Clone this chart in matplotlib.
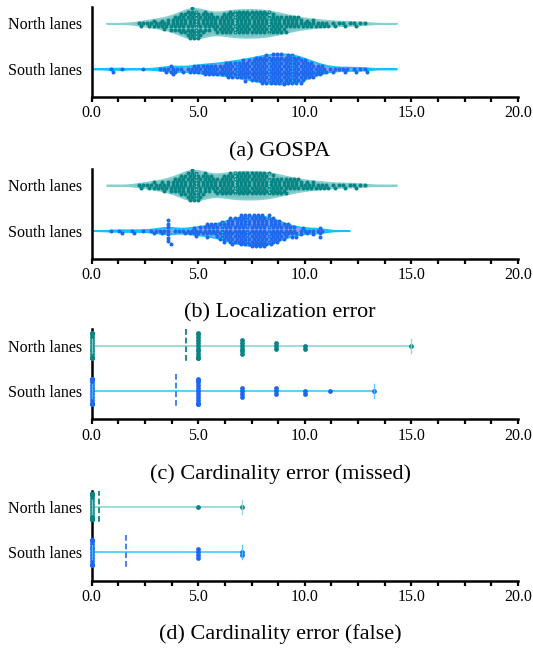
import numpy as np
import matplotlib
matplotlib.use("Agg")
import matplotlib.pyplot as plt
from matplotlib.ticker import MultipleLocator, FixedLocator, FuncFormatter

plt.rcParams['font.family'] = ['Liberation Serif', 'DejaVu Serif']

# ---------------- data ----------------
lanes = ["North lanes", "South lanes"]
panel_titles = ["(a) GOSPA", "(b) Localization error",
                "(c) Cardinality error (missed)", "(d) Cardinality error (false)"]

north_gospa = [
    2.2, 2.3, 2.4,
    2.6, 2.7, 2.8, 2.9, 2.9,
    3.0, 3.1, 3.2, 3.3, 3.3, 3.4, 3.4,
    3.5, 3.6, 3.6, 3.7, 3.7, 3.8, 3.8, 3.9, 3.9, 3.9,
    4.0, 4.0, 4.1, 4.1, 4.1, 4.2, 4.2, 4.2, 4.2, 4.3, 4.3, 4.3, 4.4, 4.4, 4.4, 4.4,
    4.5, 4.5, 4.5, 4.5, 4.5, 4.6, 4.6, 4.6, 4.6, 4.6, 4.7, 4.7, 4.7, 4.7, 4.7, 4.7,
    4.8, 4.8, 4.8, 4.8, 4.8, 4.9, 4.9, 4.9, 4.9, 4.9,
    5.0, 5.0, 5.0, 5.0, 5.0, 5.1, 5.1, 5.1, 5.1, 5.2, 5.2, 5.2, 5.2, 5.3, 5.3, 5.3, 5.3, 5.4, 5.4, 5.4,
    5.5, 5.5, 5.5, 5.6, 5.6, 5.6, 5.7, 5.7, 5.8, 5.8, 5.8, 5.9, 5.9, 5.9,
    6.0, 6.0, 6.0, 6.1, 6.1, 6.1, 6.2, 6.2, 6.2, 6.2, 6.3, 6.3, 6.3, 6.4, 6.4, 6.4, 6.4,
    6.5, 6.5, 6.5, 6.5, 6.6, 6.6, 6.6, 6.6, 6.7, 6.7, 6.7, 6.7, 6.8, 6.8, 6.8, 6.8, 6.9, 6.9, 6.9, 6.9,
    7.0, 7.0, 7.0, 7.0, 7.1, 7.1, 7.1, 7.1, 7.2, 7.2, 7.2, 7.2, 7.3, 7.3, 7.3, 7.3, 7.4, 7.4, 7.4, 7.4,
    7.5, 7.5, 7.5, 7.5, 7.6, 7.6, 7.6, 7.6, 7.7, 7.7, 7.7, 7.7, 7.8, 7.8, 7.8, 7.8, 7.9, 7.9, 7.9, 7.9,
    8.0, 8.0, 8.0, 8.0, 8.1, 8.1, 8.1, 8.1, 8.2, 8.2, 8.2, 8.2, 8.3, 8.3, 8.3, 8.3, 8.4, 8.4, 8.4,
    8.5, 8.5, 8.5, 8.5, 8.6, 8.6, 8.6, 8.7, 8.7, 8.7, 8.8, 8.8, 8.8, 8.9, 8.9, 8.9,
    9.0, 9.0, 9.0, 9.1, 9.1, 9.1, 9.2, 9.2, 9.3, 9.3, 9.4, 9.4,
    9.5, 9.5, 9.6, 9.6, 9.7, 9.7, 9.8, 9.8, 9.9,
    10.0, 10.1, 10.1, 10.2, 10.3, 10.4, 10.4,
    10.5, 10.6, 10.7, 10.8, 10.9,
    11.0, 11.1, 11.3, 11.4,
    11.6, 11.8, 11.9,
    12.1, 12.3, 12.4,
    12.6, 12.8,
]

south_gospa = [
    0.9, 1.0, 1.4,
    2.4,
    3.2, 3.4,
    3.5, 3.6, 3.7, 3.7, 3.8, 3.8, 3.9, 4.0,
    4.2, 4.3, 4.5,
    4.6, 4.7, 4.8, 4.8, 4.9, 5.0,
    5.0, 5.1, 5.2, 5.2, 5.3, 5.3, 5.4, 5.4,
    5.5, 5.5, 5.6, 5.6, 5.7, 5.7, 5.8, 5.8, 5.9, 5.9,
    6.0, 6.0, 6.1, 6.1, 6.2, 6.2, 6.3, 6.3, 6.3, 6.4, 6.4, 6.4,
    6.5, 6.5, 6.5, 6.6, 6.6, 6.6, 6.7, 6.7, 6.7, 6.8, 6.8, 6.8, 6.9, 6.9, 6.9,
    7.0, 7.0, 7.0, 7.1, 7.1, 7.1, 7.1, 7.2, 7.2, 7.2, 7.2, 7.3, 7.3, 7.3, 7.4, 7.4, 7.4, 7.4,
    7.5, 7.5, 7.5, 7.5, 7.6, 7.6, 7.6, 7.6, 7.7, 7.7, 7.7, 7.7, 7.7, 7.8, 7.8, 7.8, 7.8,
    7.9, 7.9, 7.9, 7.9, 7.9,
    8.0, 8.0, 8.0, 8.0, 8.0, 8.1, 8.1, 8.1, 8.1, 8.1, 8.2, 8.2, 8.2, 8.2, 8.2, 8.2,
    8.3, 8.3, 8.3, 8.3, 8.3, 8.4, 8.4, 8.4, 8.4, 8.4,
    8.5, 8.5, 8.5, 8.5, 8.5, 8.5, 8.6, 8.6, 8.6, 8.6, 8.6, 8.7, 8.7, 8.7, 8.7, 8.7, 8.7,
    8.8, 8.8, 8.8, 8.8, 8.8, 8.9, 8.9, 8.9, 8.9, 8.9, 8.9,
    9.0, 9.0, 9.0, 9.0, 9.0, 9.0, 9.1, 9.1, 9.1, 9.1, 9.1, 9.2, 9.2, 9.2, 9.2, 9.2, 9.2,
    9.3, 9.3, 9.3, 9.3, 9.3, 9.4, 9.4, 9.4, 9.4, 9.4, 9.4,
    9.5, 9.5, 9.5, 9.5, 9.5, 9.6, 9.6, 9.6, 9.6, 9.6, 9.7, 9.7, 9.7, 9.7, 9.7,
    9.8, 9.8, 9.8, 9.8, 9.8, 9.9, 9.9, 9.9, 9.9,
    10.0, 10.0, 10.0, 10.0, 10.1, 10.1, 10.1, 10.2, 10.2, 10.2, 10.3, 10.3, 10.3, 10.4, 10.4, 10.4,
    10.5, 10.5, 10.6, 10.6, 10.7, 10.7, 10.8, 10.8, 10.9,
    11.0, 11.2, 11.3, 11.4,
    11.6, 11.8, 11.9, 12.0,
    12.3, 12.4,
    12.6, 12.8, 12.9,
]

north_loc = [
    2.2, 2.3, 2.4,
    2.6, 2.7, 2.8, 2.9, 2.9,
    3.0, 3.1, 3.2, 3.3, 3.3, 3.4, 3.4,
    3.5, 3.6, 3.6, 3.7, 3.7, 3.8, 3.8, 3.9, 3.9, 3.9,
    4.0, 4.0, 4.1, 4.1, 4.1, 4.2, 4.2, 4.2, 4.2, 4.3, 4.3, 4.3, 4.4, 4.4, 4.4, 4.4,
    4.5, 4.5, 4.5, 4.5, 4.5, 4.6, 4.6, 4.6, 4.6, 4.6, 4.7, 4.7, 4.7, 4.7, 4.7, 4.7,
    4.8, 4.8, 4.8, 4.8, 4.8, 4.9, 4.9, 4.9, 4.9, 4.9,
    5.0, 5.0, 5.0, 5.0, 5.0, 5.1, 5.1, 5.1, 5.1, 5.2, 5.2, 5.2, 5.2, 5.3, 5.3, 5.3, 5.3, 5.4, 5.4, 5.4,
    5.5, 5.5, 5.5, 5.6, 5.6, 5.6, 5.7, 5.7, 5.8, 5.8, 5.8, 5.9, 5.9, 5.9,
    6.0, 6.0, 6.0, 6.1, 6.1, 6.1, 6.2, 6.2, 6.2, 6.2, 6.3, 6.3, 6.3, 6.4, 6.4, 6.4, 6.4,
    6.5, 6.5, 6.5, 6.5, 6.6, 6.6, 6.6, 6.6, 6.7, 6.7, 6.7, 6.7, 6.8, 6.8, 6.8, 6.8, 6.9, 6.9, 6.9, 6.9,
    7.0, 7.0, 7.0, 7.0, 7.1, 7.1, 7.1, 7.1, 7.2, 7.2, 7.2, 7.2, 7.3, 7.3, 7.3, 7.3, 7.4, 7.4, 7.4, 7.4,
    7.5, 7.5, 7.5, 7.5, 7.6, 7.6, 7.6, 7.6, 7.7, 7.7, 7.7, 7.7, 7.8, 7.8, 7.8, 7.8, 7.9, 7.9, 7.9, 7.9,
    8.0, 8.0, 8.0, 8.0, 8.1, 8.1, 8.1, 8.1, 8.2, 8.2, 8.2, 8.2, 8.3, 8.3, 8.3, 8.3, 8.4, 8.4, 8.4,
    8.5, 8.5, 8.5, 8.5, 8.6, 8.6, 8.6, 8.7, 8.7, 8.7, 8.8, 8.8, 8.8, 8.9, 8.9, 8.9,
    9.0, 9.0, 9.0, 9.1, 9.1, 9.1, 9.2, 9.2, 9.3, 9.3, 9.4, 9.4,
    9.5, 9.5, 9.6, 9.6, 9.7, 9.7, 9.8, 9.8, 9.9,
    10.0, 10.1, 10.1, 10.2, 10.3, 10.4, 10.4,
    10.5, 10.6, 10.7, 10.8, 10.9,
    11.0, 11.1, 11.3, 11.4,
    11.6, 11.8, 11.9,
    12.1, 12.3, 12.4,
    12.6, 12.8,
]

south_loc = [
    0.9, 1.3, 1.4, 1.9, 2.0, 2.4, 2.8, 2.9, 3.0, 3.2, 3.3, 3.4,
    3.6, 3.6, 3.6, 3.6, 3.6, 3.6, 3.6, 3.7, 3.9,
    4.1, 4.3, 4.4, 4.5,
    4.6, 4.7, 4.8, 4.8, 4.9, 4.9,
    5.0, 5.1, 5.1, 5.2, 5.3, 5.3, 5.4, 5.4, 5.4,
    5.5, 5.5, 5.6, 5.6, 5.7, 5.7, 5.8, 5.8, 5.9, 5.9, 5.9,
    6.0, 6.0, 6.0, 6.1, 6.1, 6.1, 6.1, 6.2, 6.2, 6.2, 6.2, 6.3, 6.3, 6.3, 6.4, 6.4, 6.4, 6.4,
    6.5, 6.5, 6.5, 6.5, 6.5, 6.6, 6.6, 6.6, 6.6, 6.6, 6.7, 6.7, 6.7, 6.7, 6.7,
    6.8, 6.8, 6.8, 6.8, 6.9, 6.9, 6.9, 6.9, 6.9,
    7.0, 7.0, 7.0, 7.0, 7.0, 7.0, 7.1, 7.1, 7.1, 7.1, 7.1, 7.2, 7.2, 7.2, 7.2, 7.2, 7.2,
    7.3, 7.3, 7.3, 7.3, 7.3, 7.4, 7.4, 7.4, 7.4, 7.4, 7.4,
    7.5, 7.5, 7.5, 7.5, 7.5, 7.5, 7.6, 7.6, 7.6, 7.6, 7.6, 7.6, 7.7, 7.7, 7.7, 7.7, 7.7, 7.7,
    7.8, 7.8, 7.8, 7.8, 7.8, 7.8, 7.9, 7.9, 7.9, 7.9, 7.9, 7.9,
    8.0, 8.0, 8.0, 8.0, 8.0, 8.0, 8.1, 8.1, 8.1, 8.1, 8.1, 8.1, 8.2, 8.2, 8.2, 8.2, 8.2,
    8.3, 8.3, 8.3, 8.3, 8.3, 8.3, 8.4, 8.4, 8.4, 8.4, 8.4,
    8.5, 8.5, 8.5, 8.5, 8.5, 8.6, 8.6, 8.6, 8.6, 8.7, 8.7, 8.7, 8.7, 8.8, 8.8, 8.8, 8.8,
    8.9, 8.9, 8.9,
    9.0, 9.0, 9.0, 9.1, 9.1, 9.1, 9.2, 9.2, 9.3, 9.3, 9.4, 9.4,
    9.5, 9.5, 9.6, 9.6, 9.8, 9.8, 9.9,
    10.0, 10.1, 10.2, 10.4, 10.4,
    10.6, 10.7, 10.7, 10.7, 10.8,
]

# cardinality-error levels and how many frames hit each level
card_levels = [0.0, 5.0, 7.07, 8.66, 10.0, 11.18, 13.23, 15.0]
north_missed_counts = [13, 12, 6, 3, 2, 0, 0, 1]
south_missed_counts = [17, 12, 4, 3, 2, 1, 1, 0]
north_false_counts = [35, 1, 1, 0, 0, 0, 0, 0]
south_false_counts = [15, 4, 2, 0, 0, 0, 0, 0]

# ---------------- style ----------------
NORTH = dict(pt='#078585', fill='#7cc3c3', edge='#86d0d0', line='#8fd5d5', mean='#0d8686')
SOUTH = dict(pt='#1c68ee', fill='#8ca3f0', edge='#12c2ff', line='#3fcaff', mean='#3a7af0')
STYLES = [NORTH, SOUTH]

W, H, DPI = 533, 650, 100
AX_L, AX_R = 91.7, 518.0
PANEL_TOPS = [7.0, 168.8, 329.3, 490.5]
AX_HPX = 90.0
YLIM = (1.62, -0.36)
TITLE_Y = [152, 313, 474, 634]
TITLE_X = 280

fig = plt.figure(figsize=(W / DPI, H / DPI), dpi=DPI)

px_per_x = (AX_R - AX_L) / 20.0
px_per_cat = AX_HPX / (YLIM[0] - YLIM[1])
SPACING = 3.5          # swarm spacing between point centres, px
DOT = 4.0              # drawn marker diameter, px
DOT_S = (DOT * 72.0 / DPI) ** 2
COL_SPACING = 2.9      # stacking step for tied values in (c)/(d), px
COL_DOT = 4.8
COL_DOT_S = (COL_DOT * 72.0 / DPI) ** 2


def beeswarm(vals, d):
    """Offsets (px) perpendicular to value axis for a non-overlapping swarm."""
    x = np.asarray(vals, float) * px_per_x
    order = np.argsort(x, kind='stable')
    ys = np.zeros(len(x))
    px_l, py_l = [], []
    for i in order:
        xi = x[i]
        if px_l:
            pxa = np.array(px_l); pya = np.array(py_l)
            m = np.abs(pxa - xi) < d
            nx, ny = pxa[m], pya[m]
        else:
            nx, ny = np.array([]), np.array([])
        cands = [0.0]
        for a, b in zip(nx, ny):
            dy = np.sqrt(max(d * d - (a - xi) ** 2, 0.0))
            cands += [b + dy, b - dy]
        cands = sorted(cands, key=lambda c: (abs(c), -c))
        chosen = cands[-1]
        for c in cands:
            if len(nx) == 0 or np.all((nx - xi) ** 2 + (ny - c) ** 2 >= d * d - 1e-6):
                chosen = c
                break
        ys[i] = chosen
        px_l.append(xi); py_l.append(chosen)
    return ys


def kde(vals, bw_adjust=0.6, n_grid=400):
    v = np.asarray(vals, float)
    bw_scott = len(v) ** (-0.2) * v.std(ddof=1)
    bw = bw_scott * bw_adjust
    grid = np.linspace(v.min() - 2 * bw_scott, v.max() + 2 * bw_scott, n_grid)
    dens = np.exp(-0.5 * ((grid[:, None] - v[None, :]) / bw) ** 2).sum(1)
    return grid, dens / dens.max()


def style_axes(ax):
    ax.set_xlim(0, 20)
    ax.set_ylim(*YLIM)
    for s in ['top', 'right']:
        ax.spines[s].set_visible(False)
    for s in ['left', 'bottom']:
        ax.spines[s].set_linewidth(1.8)
        ax.spines[s].set_zorder(2.5)
    ax.xaxis.set_major_locator(FixedLocator([0, 5, 10, 15, 20]))
    ax.xaxis.set_minor_locator(MultipleLocator(1.25))
    ax.xaxis.set_major_formatter(FuncFormatter(lambda v, p: f"{v:.1f}"))
    ax.tick_params(axis='x', which='both', direction='out', length=3.6, width=1.6,
                   labelsize=11.5, pad=2.5)
    ax.set_yticks([0, 1])
    ax.set_yticklabels(lanes)
    ax.tick_params(axis='y', length=0, labelsize=11.5, pad=7)
    ax.patch.set_alpha(0)


def make_ax(i):
    top = PANEL_TOPS[i]
    return fig.add_axes([AX_L / W, 1 - (top + AX_HPX) / H, (AX_R - AX_L) / W, AX_HPX / H])


# ---- panels (a), (b): violins + swarms ----
VIOLIN_HW = 15.0 / px_per_cat
for pi, series in enumerate([(north_gospa, south_gospa), (north_loc, south_loc)]):
    ax = make_ax(pi)
    style_axes(ax)
    for ci, vals in enumerate(series):
        st = STYLES[ci]
        v = np.asarray(vals, float)
        grid, dens = kde(v)
        ax.fill_between(grid, ci - VIOLIN_HW * dens, ci + VIOLIN_HW * dens,
                        facecolor=st['fill'], edgecolor=st['edge'], linewidth=1.3, zorder=1)
        off = np.clip(beeswarm(v, SPACING), -15.5, 15.5) / px_per_cat
        ax.scatter(v, ci + off, s=DOT_S, color=st['pt'], linewidths=0, zorder=2)
        for q in np.percentile(v, [25, 50, 75]):
            h = VIOLIN_HW * np.interp(q, grid, dens)
            ax.plot([q, q], [ci - h, ci + h], color=st['edge'], lw=1.0,
                    ls=(0, (1, 1.2)), zorder=3)

# ---- panels (c), (d): discrete errors ----
CAP_HW = 7.0 / px_per_cat
MEAN_HW = 17.0 / px_per_cat
for pi, counts_pair in zip([2, 3], [(north_missed_counts, south_missed_counts),
                                    (north_false_counts, south_false_counts)]):
    ax = make_ax(pi)
    style_axes(ax)
    for ci, counts in enumerate(counts_pair):
        st = STYLES[ci]
        v = np.repeat(np.asarray(card_levels, float), counts)
        lo, hi = v.min(), v.max()
        ax.plot([lo, hi], [ci, ci], color=st['line'], lw=1.2, zorder=1, solid_capstyle='butt')
        off = np.clip(beeswarm(v, COL_SPACING), -12.5, 12.5) / px_per_cat
        ax.scatter(v, ci + off, s=COL_DOT_S, color=st['pt'], linewidths=0, zorder=3,
                   clip_on=False)
        for x in (lo, hi):
            ax.plot([x, x], [ci - CAP_HW, ci + CAP_HW], color=st['line'], lw=1.0,
                    alpha=0.9, zorder=4, clip_on=False)
        m = v.mean()
        ax.plot([m, m], [ci - MEAN_HW, ci + MEAN_HW], color=st['mean'], lw=1.3,
                ls=(0, (3.2, 1.6)), zorder=3)

for t, y in zip(panel_titles, TITLE_Y):
    fig.text(TITLE_X / W, 1 - y / H, t, ha='center', va='center', fontsize=16)

fig.savefig("out.png", dpi=DPI)
